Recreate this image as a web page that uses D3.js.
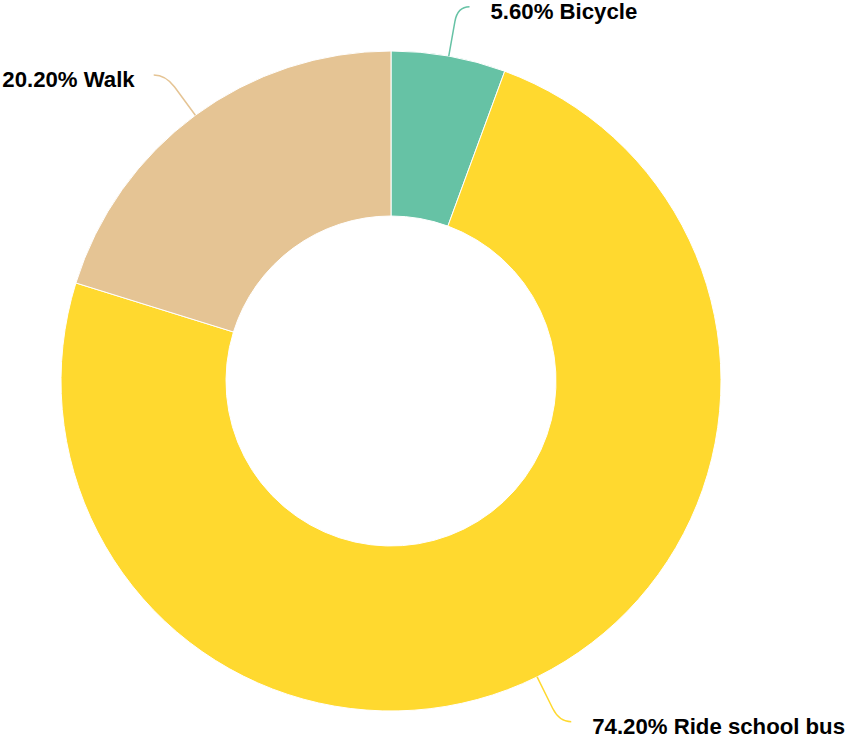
<!DOCTYPE html>
<html>
<head>
<meta charset="utf-8">
<script src="https://cdn.jsdelivr.net/npm/d3@7"></script>
<style>
html,body{margin:0;padding:0;background:#fff;}
svg{display:block;}
</style>
</head>
<body>
<svg id="chart" width="850" height="742"></svg>
<script>
const categories = ["Bicycle", "Ride school bus", "Walk"];
const values = [5.6, 74.2, 20.2];
const colors = ["#66c2a5", "#ffd92f", "#e5c494"];

const W = 850, H = 742;
const cx = 391, cy = 381, outerR = 330, innerR = 165;
const len1 = 50, len2 = 12;

const data = categories.map((c, i) => ({ name: c, value: values[i], color: colors[i] }));
const svg = d3.select("#chart");
const g = svg.append("g").attr("transform", `translate(${cx},${cy})`);

const pie = d3.pie().value(d => d.value).sort(null);
const arc = d3.arc().innerRadius(innerR).outerRadius(outerR);
const arcs = pie(data);

g.selectAll("path.slice").data(arcs).join("path")
  .attr("class", "slice")
  .attr("d", arc)
  .attr("fill", d => d.data.color)
  .attr("stroke", "#fff")
  .attr("stroke-width", 1);

arcs.forEach(d => {
  const a = (d.startAngle + d.endAngle) / 2;
  const sx = Math.sin(a), sy = -Math.cos(a);
  const p0 = [sx * outerR, sy * outerR];
  const pa = [sx * (outerR + len1 - 15), sy * (outerR + len1 - 15)];
  const p1 = [sx * (outerR + len1), sy * (outerR + len1)];
  const dir = sx >= 0 ? 1 : -1;
  const p2 = [p1[0] + dir * len2, p1[1]];
  const gap = dir > 0 ? 21 : 19;
  const path = d3.path();
  path.moveTo(p0[0], p0[1]);
  path.lineTo(pa[0], pa[1]);
  path.quadraticCurveTo(p1[0], p1[1], p2[0], p2[1]);
  g.append("path")
    .attr("d", path.toString())
    .attr("fill", "none")
    .attr("stroke", d.data.color)
    .attr("stroke-width", 1.5);
  g.append("text")
    .attr("x", p2[0] + dir * gap)
    .attr("y", p2[1] + 12)
    .attr("text-anchor", dir > 0 ? "start" : "end")
    .attr("font-family", "'Liberation Sans', Arial, Helvetica, sans-serif")
    .attr("font-weight", "bold")
    .attr("font-size", 22.2)
    .attr("fill", "#000")
    .text(`${d.data.value.toFixed(2)}% ${d.data.name}`);
});
</script>
</body>
</html>
